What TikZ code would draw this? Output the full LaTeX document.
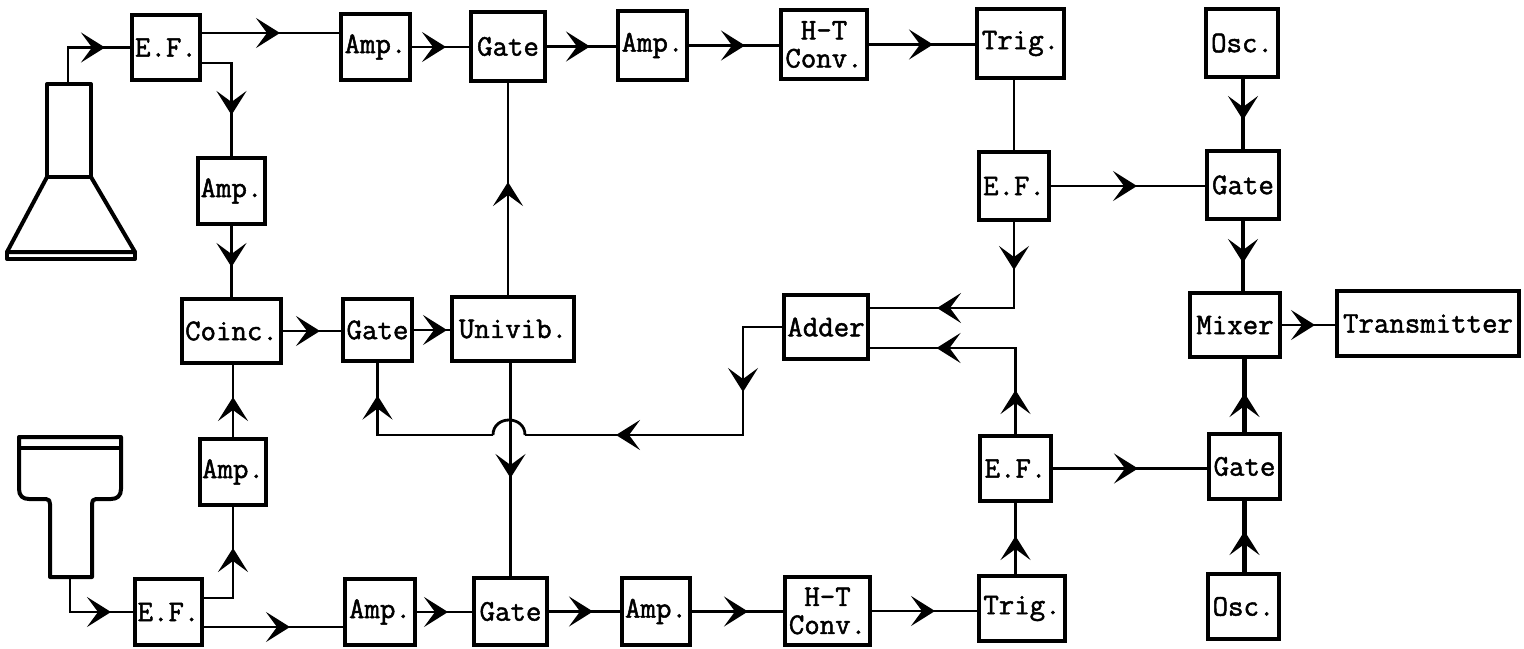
\documentclass[tikz,border=0pt]{standalone}
\usepackage{fontspec}
\newfontfamily\typer{Latin Modern Mono}[FakeBold=1.6]
\usetikzlibrary{arrows.meta,decorations.markings}
\begin{document}
\begin{tikzpicture}[x=0.5pt,y=-0.5pt,
  box/.style={draw,line width=2pt,inner sep=0pt,align=center,
    font=\typer\bfseries\fontsize{15}{14}\selectfont},
  wh/.style 2 args={minimum width=#1pt,minimum height=#2pt},
  wire/.style={line width=1.4pt},
  heavy/.style={line width=2.3pt},
  pmt/.style={line width=2pt,line join=round},
  tip/.style={postaction={decorate},decoration={markings,
    mark=at position #1 with {\arrow{Stealth[length=12pt,width=15pt,inset=5.5pt]}}}},
  tips/.style 2 args={postaction={decorate},decoration={markings,
    mark=at position #1 with {\arrow{Stealth[length=12pt,width=15pt,inset=5.5pt]}},
    mark=at position #2 with {\arrow{Stealth[length=12pt,width=15pt,inset=5.5pt]}}}}]

\fill[white] (0,0) rectangle (1524,648);
\useasboundingbox (0,0) rectangle (1524,648);

% photomultiplier tubes
\draw[pmt] (47,177) rectangle (91,84);
\draw[pmt] (47,177) -- (7,252) -- (135,252) -- (91,177);
\draw[pmt] (7,252) rectangle (135,259);
\coordinate (pm1) at (68,84);

\draw[pmt] (19,437) -- (121,437) -- (121,489) .. controls (121,496) and (117,499) .. (111,499)
  -- (96,499) .. controls (93,499) and (92,501) .. (92,504) -- (92,577) -- (50,577)
  -- (50,504) .. controls (50,501) and (49,499) .. (46,499) -- (29,499)
  .. controls (23,499) and (19,496) .. (19,489) -- cycle;
\draw[pmt] (19,448) -- (121,448);
\coordinate (pm2) at (70,577);

% upper channel
\node[box,wh={34}{32.5}] (ef1) at (166,47.5) {E.F.};
\node[box,wh={34.5}{33}] (amp1) at (375.5,47) {Amp.};
\node[box,wh={37}{34.5}] (gate1) at (508,46.5) {Gate};
\node[box,wh={34.5}{34.5}] (amp2) at (652.5,45.5) {Amp.};
\node[box,wh={43}{34.5}] (htc1) at (824,44.5) {H-T\\Conv.};
\node[box,wh={43.5}{34.5}] (trig1) at (1020.5,43.5) {Trig.};
\node[box,wh={36}{34}] (osc1) at (1242,43) {Osc.};
\node[box,wh={35}{34}] (ef3) at (1014,186) {E.F.};
\node[box,wh={36}{34}] (gate3) at (1243,185) {Gate};
\node[box,wh={33.5}{33}] (ampv1) at (231.5,191) {Amp.};

% middle row
\node[box,wh={49.5}{32}] (coinc) at (231.5,331) {Coinc.};
\node[box,wh={34.5}{31}] (gate2) at (377.5,330) {Gate};
\node[box,wh={61}{32}] (univib) at (513,329) {Univib.};
\node[box,wh={42}{32}] (adder) at (826,327) {Adder};
\node[box,wh={45}{32}] (mixer) at (1235,325) {Mixer};
\node[box,wh={91}{32.5}] (trans) at (1428,323.5) {Transmitter};

% lower channel
\node[box,wh={33}{33}] (ampv2) at (233,472) {Amp.};
\node[box,wh={35.5}{32.5}] (ef4) at (1015.5,468.5) {E.F.};
\node[box,wh={35.5}{32.5}] (gate4) at (1244.5,466.5) {Gate};
\node[box,wh={33.5}{33}] (ef2) at (168.5,612) {E.F.};
\node[box,wh={35}{33}] (amp3) at (380,612) {Amp.};
\node[box,wh={36.5}{33.5}] (gate5) at (510.5,611.5) {Gate};
\node[box,wh={34}{33.5}] (amp4) at (656,611.5) {Amp.};
\node[box,wh={42.5}{34}] (htc2) at (827.5,611) {H-T\\Conv.};
\node[box,wh={43}{32.5}] (trig2) at (1022,608.5) {Trig.};
\node[box,wh={35.5}{32.5}] (osc2) at (1243.5,606.5) {Osc.};

% upper channel connections
\draw[wire,tip=36.75pt] (pm1) |- (ef1.west);
\draw[wire,tip=39pt] ([yshift=7.25pt]ef1.east) -- ([yshift=7.25pt]ef1.east -| amp1.west);
\draw[wire,tip=40.75pt] ([yshift=-7.75pt]ef1.east) -| (ampv1.north);
\draw[wire,tip=20.5pt] (ampv1.south) -- (ampv1.south |- coinc.north);
\draw[wire,tip=17pt] (amp1.east) -- (amp1.east -| gate1.west);
\draw[wire,tip=21.5pt] (gate1.east) -- (gate1.east -| amp2.west);
\draw[wire,tip=28pt] (amp2.east) -- (amp2.east -| htc1.west);
\draw[wire,tip=32pt] (htc1.east) -- (htc1.east -| trig1.west);
\draw[wire] (trig1.south -| ef3.north) -- (ef3.north);
\draw[wire,tip=43pt] (ef3.east) -- (ef3.east -| gate3.west);
\draw[heavy,tip=20.5pt] (osc1.south -| gate3.north) -- (gate3.north);
\draw[heavy,tip=21pt] (gate3.south) -- (gate3.south |- mixer.north);
\draw[wire,tips={24pt}{81.5pt}] (ef3.south) |- ([yshift=9.5pt]adder.east);

% coincidence and gating
\draw[wire,tip=18.5pt] (coinc.east) -- (coinc.east -| gate2.west);
\draw[wire,tip=16.5pt] (gate2.east) -- (gate2.east -| univib.west);
\draw[wire,tip=56.5pt] (gate1.south |- univib.north) -- (gate1.south);
\draw[wire,tip=57.5pt] (gate5.north |- univib.south) -- (gate5.north);

% adder feedback, hopping over the univibrator line
\coordinate (fbk) at (743,435);
\coordinate (hopR) at (525,435);
\coordinate (hopL) at (493,435);
\draw[wire,tips={52pt}{137pt}] (adder.west) -| (fbk) -- (hopR);
\draw[wire] (hopR) .. controls (525,415) and (493,415) .. (hopL);
\draw[wire,tip=77.5pt] (hopL) -| (gate2.south);

% lower channel connections
\draw[wire,tip=20pt] (ampv2.north) -- (ampv2.north |- coinc.south);
\draw[wire,tip=39.5pt] ([yshift=7pt]ef2.east) -| (ampv2.south);
\draw[wire,tip=43pt] ([yshift=-7.5pt]ef2.east) -- ([yshift=-7.5pt]ef2.east -| amp3.west);
\draw[wire,tip=38pt] (pm2) |- (ef2.west);
\draw[wire,tip=15.5pt] (amp3.east) -- (amp3.east -| gate5.west);
\draw[wire,tip=22pt] (gate5.east) -- (gate5.east -| amp4.west);
\draw[wire,tip=28pt] (amp4.east) -- (amp4.east -| htc2.west);
\draw[wire,tip=31.5pt] (htc2.east) -- (htc2.east -| trig2.west);
\draw[wire,tip=19pt] (ef4.south |- trig2.north) -- (ef4.south);
\draw[wire,tips={22pt}{82.5pt}] (ef4.north) |- ([yshift=-10.5pt]adder.east);
\draw[wire,tip=42.5pt] (ef4.east) -- (ef4.east -| gate4.west);
\draw[heavy,tip=20.5pt] (osc2.north -| gate4.south) -- (gate4.south);
\draw[heavy,tip=19.5pt] (gate4.north) -- (gate4.north |- mixer.south);
\draw[wire,tip=16.5pt] (mixer.east) -- (mixer.east -| trans.west);
\end{tikzpicture}
\end{document}
